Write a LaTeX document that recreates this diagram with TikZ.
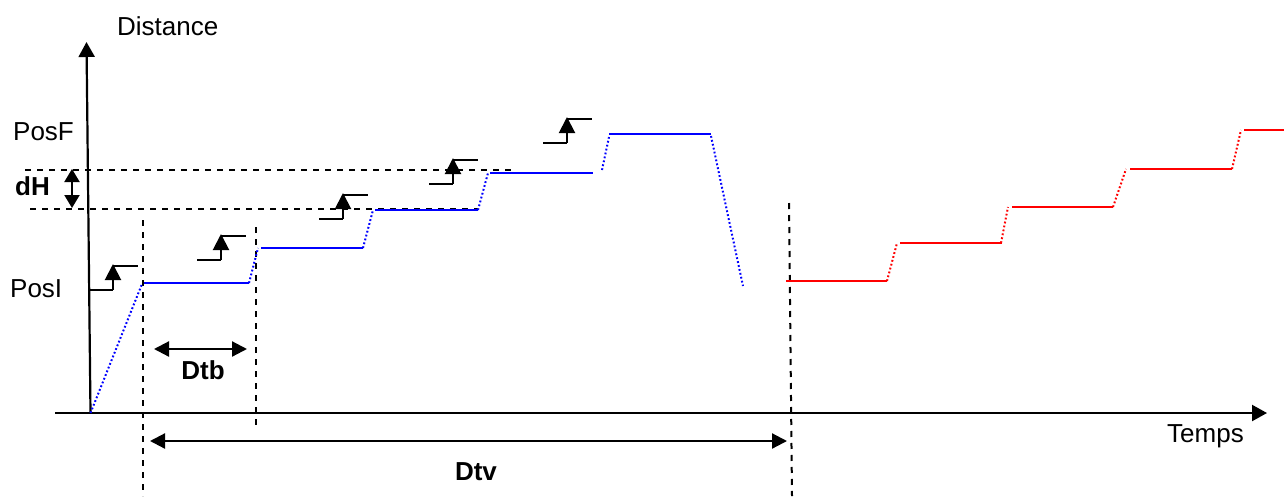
\documentclass[tikz,border=0pt]{standalone}
\usepackage{fontspec}
\setmainfont{Liberation Sans}
\usetikzlibrary{arrows.meta}
\tikzset{
  pics/stepsym/.style={code={
    \draw[line width=2pt] (-24,0) -- (0,0);
    \draw[line width=2pt,-{Triangle[length=16pt,width=16pt]}] (0,0) -- (0,-26);
    \draw[line width=2pt] (0,-24) -- (25,-24);
  }}
}
\begin{document}
\begin{tikzpicture}[x=1pt,y=-1pt,
  axisline/.style={line width=2.2pt,-{Triangle[length=15pt,width=16pt]}},
  dimarrow/.style={line width=2.2pt,{Triangle[length=15pt,width=15pt]}-{Triangle[length=15pt,width=15pt]}},
  smallarrow/.style={line width=2pt,{Triangle[length=13pt,width=15pt]}-{Triangle[length=13pt,width=15pt]}},
  guide/.style={line width=2pt,dash pattern=on 6pt off 6pt},
  bluelevel/.style={blue,line width=2.8pt},
  bluerise/.style={blue,line width=2pt,dash pattern=on 1.8pt off 2.2pt},
  redlevel/.style={red,line width=2.8pt},
  redrise/.style={red,line width=2pt,dash pattern=on 1.8pt off 2.2pt},
  lbl/.style={inner sep=0pt,anchor=base west,font=\fontsize{26}{31}\selectfont},
  blbl/.style={inner sep=0pt,anchor=base,font=\fontsize{26}{31}\selectfont\bfseries}
]
\useasboundingbox (0,0) rectangle (1287,496);

% key coordinates
\coordinate (O) at (90.5,413);
\coordinate (ytop) at (86.5,42);
\coordinate (xstart) at (55,413);
\coordinate (xend) at (1267,413);

% guide lines (dashed)
\draw[guide] (25,169.5) -- (513,169.5);
\draw[guide] (30,209) -- (478,209);
\draw[guide] (143,220) -- (143,496);
\draw[guide] (256,227) -- (256,427);
\draw[guide] (789,203) -- (792,496);

% axes
\draw[axisline] (xstart) -- (xend);
\draw[axisline] (O) -- (ytop);

% labels
\node[lbl] (distance) at (117,35) {Distance};
\node[lbl] (posf) at (13,140) {PosF};
\node[lbl,font=\fontsize{26}{31}\selectfont\bfseries] (dh) at (15,195) {dH};
\node[lbl] (posi) at (10,297) {PosI};
\node[lbl] (temps) at (1167,442) {Temps};
\node[blbl] (dtb) at (203,379) {Dtb};
\node[blbl] (dtv) at (476,480) {Dtv};

% dimension arrows
\coordinate (dhA) at (72,169);
\coordinate (dhB) at (72,208);
\draw[smallarrow] (dhA) -- (dhB);
\coordinate (dtbA) at (154,349);
\coordinate (dtbB) at (247,349);
\draw[dimarrow] (dtbA) -- (dtbB);
\coordinate (dtvA) at (150,441);
\coordinate (dtvB) at (787,441);
\draw[dimarrow] (dtvA) -- (dtvB);

% step symbols
\pic at (113,290) {stepsym};
\pic at (221,260) {stepsym};
\pic at (343,219) {stepsym};
\pic at (453,184) {stepsym};
\pic at (567,143) {stepsym};

% blue staircase
\draw[bluerise] (O) -- (142,284);
\draw[bluelevel] (144,283) -- (249,283);
\draw[bluerise] (249,283) -- (258,248);
\draw[bluelevel] (261,248) -- (363,248);
\draw[bluerise] (363,248) -- (373,210);
\draw[bluelevel] (375,210) -- (478,210);
\draw[bluerise] (478,210) -- (488,173);
\draw[bluelevel] (490,173) -- (593,173);
\draw[bluerise] (602,170) -- (609,137);
\draw[bluelevel] (609,134) -- (711,134);
\draw[bluerise] (711,136) -- (743,286);

% red staircase
\draw[redlevel] (786,281) -- (887,281);
\draw[redrise] (887,281) -- (897,243);
\draw[redlevel] (900,243) -- (1002,243);
\draw[redrise] (1001,243) -- (1008,207);
\draw[redlevel] (1012,207) -- (1113,207);
\draw[redrise] (1113,207) -- (1126,169);
\draw[redlevel] (1130,169) -- (1232,169);
\draw[redrise] (1232,169) -- (1241,130);
\draw[redlevel] (1244,130) -- (1284,130);
\end{tikzpicture}
\end{document}
